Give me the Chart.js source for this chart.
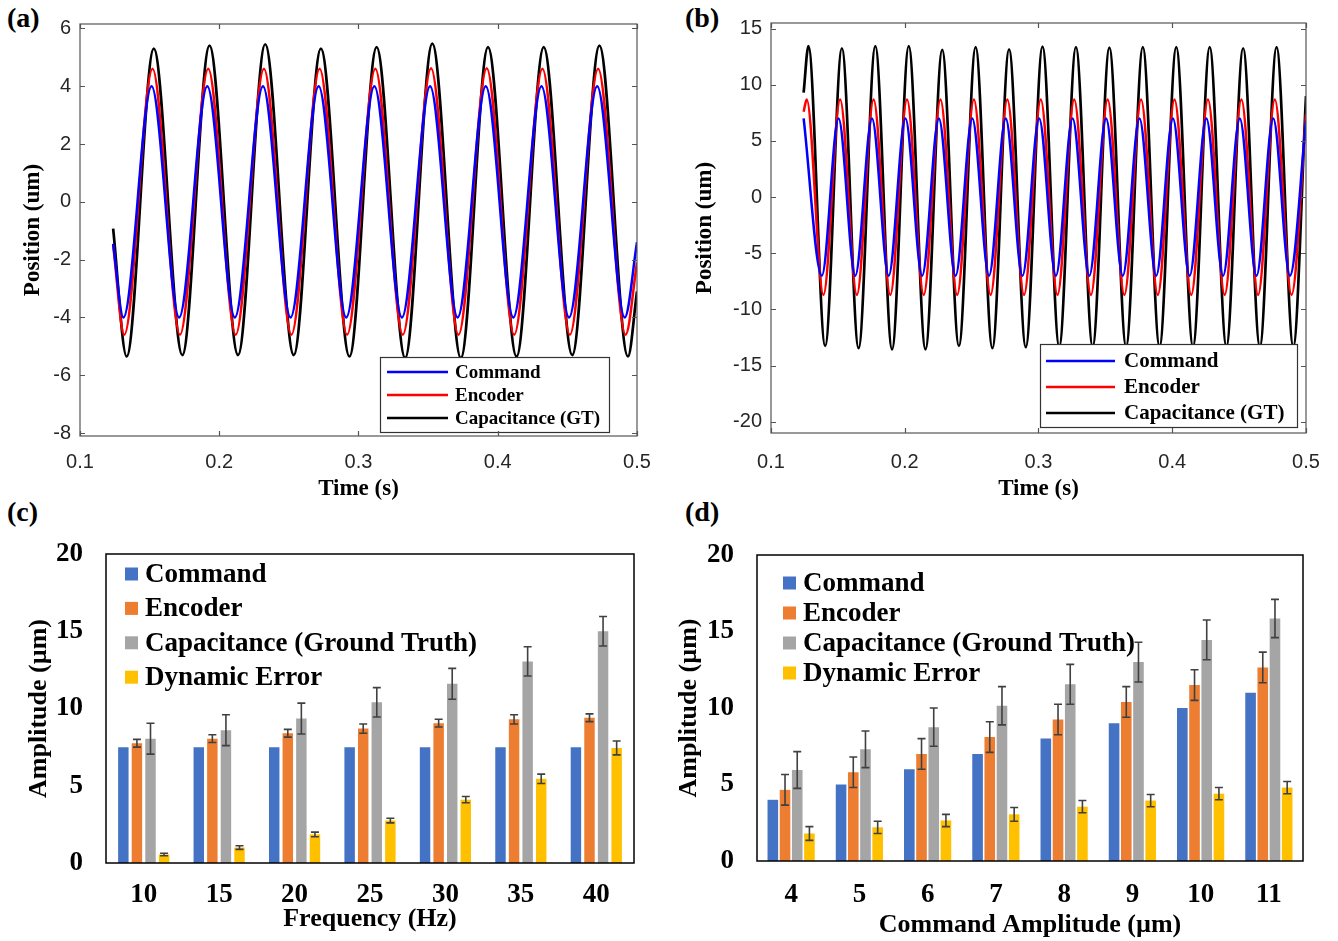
<!DOCTYPE html>
<html>
<head>
<meta charset="utf-8">
<script src="https://cdn.jsdelivr.net/npm/chart.js@4/dist/chart.umd.min.js"></script>
<style>
  body { margin: 0; background: #fff; width: 1338px; height: 941px; position: relative; overflow: hidden; }
  canvas { position: absolute; }
  .tag { position: absolute; font: bold 28px "Liberation Serif", serif; color: #000; }
</style>
</head>
<body>
<div class="tag" style="left:7px;top:2px">(a)</div>
<div class="tag" style="left:685px;top:2px">(b)</div>
<div class="tag" style="left:7px;top:496px">(c)</div>
<div class="tag" style="left:685px;top:496px">(d)</div>
<canvas id="chartA" width="668" height="505" style="left:0;top:0"></canvas>
<canvas id="chartB" width="669" height="505" style="left:669px;top:0"></canvas>
<canvas id="chartC" width="669" height="436" style="left:0;top:505px"></canvas>
<canvas id="chartD" width="669" height="436" style="left:669px;top:505px"></canvas>
<script>
// ---- (a) 25 Hz tracking: peaks / troughs ----
const aCmdT = [0.1238, 0.1312, 0.1514, 0.1712, 0.1914, 0.2112, 0.2314, 0.2512, 0.2714, 0.2912, 0.3114,
               0.3312, 0.3514, 0.3712, 0.3914, 0.4112, 0.4314, 0.4512, 0.4714, 0.4912, 0.5];
const aCmdY = [-1.45, -4, 4, -4, 4, -4, 4, -4, 4, -4, 4, -4, 4, -4, 4, -4, 4, -4, 4, -4, -1.4];
const aEncT = [0.1238, 0.1318, 0.1521, 0.1718, 0.1921, 0.2118, 0.2321, 0.2518, 0.2721, 0.2918, 0.3121,
               0.3318, 0.3521, 0.3718, 0.3921, 0.4118, 0.4321, 0.4518, 0.4721, 0.4918, 0.5];
const aEncY = [-1.5, -4.6, 4.6, -4.6, 4.6, -4.6, 4.6, -4.6, 4.6, -4.6, 4.6, -4.6, 4.62, -4.6, 4.62, -4.6,
               4.6, -4.6, 4.6, -4.6, -2.1];
const aCapT = [0.1238, 0.1335, 0.1530, 0.1735, 0.1930, 0.2135, 0.2330, 0.2535, 0.2730, 0.2935, 0.3130,
               0.3335, 0.3530, 0.3735, 0.3930, 0.4135, 0.4330, 0.4535, 0.4730, 0.4935, 0.5];
const aCapY = [-0.93, -5.35, 5.3, -5.3, 5.4, -5.3, 5.45, -5.3, 5.3, -5.35, 5.35, -5.4, 5.47, -5.4, 5.35,
               -5.35, 5.35, -5.3, 5.4, -5.35, -3.1];
const aXTicks = [0.1, 0.2, 0.3, 0.4, 0.5];
const aYTicks = [-8, -6, -4, -2, 0, 2, 4, 6];

// ---- (b) 40 Hz tracking ----
const bCmdT = [0.1244, 0.138, 0.1505, 0.163, 0.1755, 0.188, 0.2005, 0.213, 0.2255, 0.238, 0.2505, 0.263,
               0.2755, 0.288, 0.3005, 0.313, 0.3255, 0.338, 0.3505, 0.363, 0.3755, 0.388, 0.4005, 0.413,
               0.4255, 0.438, 0.4505, 0.463, 0.4755, 0.488, 0.5];
const bCmdY = [7.0, -7, 7, -7, 7, -7, 7, -7, 7, -7, 7, -7, 7, -7, 7, -7, 7, -7, 7, -7, 7, -7, 7, -7, 7, -7,
               7, -7, 7, -7, 6.8];
const bEncT = [0.1244, 0.1267, 0.1392, 0.1517, 0.1642, 0.1767, 0.1892, 0.2017, 0.2142, 0.2267, 0.2392,
               0.2517, 0.2642, 0.2767, 0.2892, 0.3017, 0.3142, 0.3267, 0.3392, 0.3517, 0.3642, 0.3767,
               0.3892, 0.4017, 0.4142, 0.4267, 0.4392, 0.4517, 0.4642, 0.4767, 0.4892, 0.5];
const bEncY = [7.6, 8.7, -8.7, 8.7, -8.7, 8.7, -8.7, 8.7, -8.7, 8.7, -8.7, 8.7, -8.7, 8.7, -8.7, 8.7, -8.7,
               8.7, -8.7, 8.7, -8.7, 8.7, -8.7, 8.7, -8.7, 8.7, -8.7, 8.7, -8.7, 8.7, -8.7, 7.4];
const bCapT = [0.1244, 0.128, 0.1405, 0.153, 0.1655, 0.178, 0.1905, 0.203, 0.2155, 0.228, 0.2405, 0.253,
               0.2655, 0.278, 0.2905, 0.303, 0.3155, 0.328, 0.3405, 0.353, 0.3655, 0.378, 0.3905, 0.403,
               0.4155, 0.428, 0.4405, 0.453, 0.4655, 0.478, 0.4905, 0.5];
const bCapY = [9.3, 13.45, -13.25, 13.25, -13.45, 13.45, -13.55, 13.45, -13.55, 13.1, -13.25, 13.35, -13.45,
               13.15, -13.35, 13.4, -13.3, 13.35, -13.3, 13.3, -13.3, 13.35, -13.3, 13.35, -13.3, 13.35,
               -13.3, 13.25, -13.3, 13.35, -13.3, 9.0];
const bXTicks = [0.1, 0.2, 0.3, 0.4, 0.5];
const bYTicks = [-20, -15, -10, -5, 0, 5, 10, 15];

// ---- (c) amplitude vs frequency ----
const cFreq = ['10', '15', '20', '25', '30', '35', '40'];
const cCommand = [7.5, 7.5, 7.5, 7.5, 7.5, 7.5, 7.5];
const cEncoder = [7.75, 8.05, 8.4, 8.7, 9.05, 9.3, 9.4];
const cEncoderErr = [0.25, 0.25, 0.25, 0.3, 0.25, 0.3, 0.25];
const cCap = [8.05, 8.6, 9.35, 10.4, 11.6, 13.05, 15.0];
const cCapErr = [1.0, 1.0, 1.0, 0.95, 1.0, 0.95, 0.95];
const cDyn = [0.55, 1.0, 1.85, 2.75, 4.1, 5.45, 7.45];
const cDynErr = [0.08, 0.12, 0.15, 0.15, 0.2, 0.3, 0.45];

// ---- (d) amplitude vs command amplitude ----
const dAmp = ['4', '5', '6', '7', '8', '9', '10', '11'];
const dCommand = [4, 5, 6, 7, 8, 9, 10, 11];
const dEncoder = [4.65, 5.8, 7.0, 8.1, 9.25, 10.4, 11.5, 12.65];
const dEncoderErr = [1.0, 1.0, 1.0, 1.0, 1.0, 1.0, 1.0, 1.0];
const dCap = [5.95, 7.3, 8.75, 10.15, 11.55, 13.0, 14.45, 15.85];
const dCapErr = [1.2, 1.2, 1.25, 1.25, 1.3, 1.3, 1.3, 1.25];
const dDyn = [1.8, 2.2, 2.65, 3.05, 3.55, 3.95, 4.4, 4.8];
const dDynErr = [0.45, 0.4, 0.4, 0.45, 0.4, 0.4, 0.4, 0.4];

const barTicks = [0, 5, 10, 15, 20];

const SERIF = '"Liberation Serif", "Times New Roman", serif';
const SANS = '"Liberation Sans", Arial, sans-serif';

function pts(ts, ys) {
    return ts.map((t, i) => ({ x: t, y: ys[i] }));
}

// box round the plot area, optional inward ticks on all four sides (matlab look)
const frame = {
    id: 'frame',
    afterDraw(chart, args, o) {
        const { ctx, chartArea: ca } = chart;
        ctx.save();
        ctx.strokeStyle = o.color;
        ctx.lineWidth = o.width;
        ctx.strokeRect(ca.left, ca.top, ca.right - ca.left, ca.bottom - ca.top);
        if (o.tickLen) {
            ctx.beginPath();
            chart.scales.x.ticks.forEach(t => {
                const px = Math.round(chart.scales.x.getPixelForValue(t.value)) + 0.5;
                ctx.moveTo(px, ca.bottom); ctx.lineTo(px, ca.bottom - o.tickLen);
                ctx.moveTo(px, ca.top); ctx.lineTo(px, ca.top + o.tickLen);
            });
            chart.scales.y.ticks.forEach(t => {
                const py = Math.round(chart.scales.y.getPixelForValue(t.value)) + 0.5;
                ctx.moveTo(ca.left, py); ctx.lineTo(ca.left + o.tickLen, py);
                ctx.moveTo(ca.right, py); ctx.lineTo(ca.right - o.tickLen, py);
            });
            ctx.stroke();
        }
        ctx.restore();
    }
};

// legend drawn inside the plot
const boxLegend = {
    id: 'boxLegend',
    afterDatasetsDraw(chart, args, o) {
        const ctx = chart.ctx;
        ctx.save();
        if (o.box) {
            ctx.fillStyle = '#fff';
            ctx.fillRect(o.box[0], o.box[1], o.box[2], o.box[3]);
            ctx.strokeStyle = '#333';
            ctx.lineWidth = 1.2;
            ctx.strokeRect(o.box[0] + 0.5, o.box[1] + 0.5, o.box[2], o.box[3]);
        }
        ctx.font = o.font;
        ctx.textBaseline = 'middle';
        chart.data.datasets.forEach((ds, i) => {
            const cy = o.rowY + i * o.rowH;
            if (o.marker === 'line') {
                ctx.strokeStyle = ds.borderColor;
                ctx.lineWidth = 2.5;
                ctx.beginPath();
                ctx.moveTo(o.markX, cy);
                ctx.lineTo(o.markX + o.markW, cy);
                ctx.stroke();
            } else {
                ctx.fillStyle = ds.backgroundColor;
                ctx.fillRect(o.markX, cy - o.markW / 2, o.markW, o.markW);
            }
            ctx.fillStyle = '#000';
            ctx.fillText(ds.label, o.textX, cy + 1);
        });
        ctx.restore();
    }
};

// +/- error bars from dataset.errors
const errorBars = {
    id: 'errorBars',
    afterDatasetsDraw(chart) {
        const ctx = chart.ctx, ys = chart.scales.y;
        ctx.save();
        ctx.strokeStyle = '#404040';
        ctx.lineWidth = 1.6;
        chart.data.datasets.forEach((ds, i) => {
            if (!ds.errors) return;
            chart.getDatasetMeta(i).data.forEach((bar, j) => {
                const v = ds.data[j], e = ds.errors[j];
                const top = ys.getPixelForValue(v + e), bot = ys.getPixelForValue(v - e);
                ctx.beginPath();
                ctx.moveTo(bar.x, top); ctx.lineTo(bar.x, bot);
                ctx.moveTo(bar.x - 4, top); ctx.lineTo(bar.x + 4, top);
                ctx.moveTo(bar.x - 4, bot); ctx.lineTo(bar.x + 4, bot);
                ctx.stroke();
            });
        });
        ctx.restore();
    }
};

function lineChart(id, sets, xTicks, yTicks, yMin, yMax, lay) {
    new Chart(id, {
        type: 'line',
        data: {
            datasets: sets.map(s => ({
                label: s.label,
                data: s.data,
                borderColor: s.color,
                borderWidth: s.width,
                pointRadius: 0,
                fill: false,
                cubicInterpolationMode: 'monotone'   // smooth between the peaks/troughs
            }))
        },
        options: {
            responsive: false,
            animation: false,
            layout: { padding: { left: 0, top: lay.top, right: lay.right, bottom: 0 } },
            scales: {
                x: {
                    type: 'linear', min: 0.1, max: 0.5,
                    afterBuildTicks: s => { s.ticks = xTicks.map(v => ({ value: v })); },
                    afterFit: s => { s.height = lay.xh; },
                    grid: { display: false, drawTicks: false },
                    border: { display: false },
                    ticks: { padding: lay.xpad, maxRotation: 0, autoSkip: false, color: '#262626',
                             font: { family: SANS, size: 20 }, callback: v => String(v) },
                    title: { display: true, text: 'Time (s)', color: '#000',
                             font: { family: SERIF, size: 23, weight: 'bold' }, padding: { top: 0, bottom: 2 } }
                },
                y: {
                    min: yMin, max: yMax,
                    afterBuildTicks: s => { s.ticks = yTicks.map(v => ({ value: v })); },
                    afterFit: s => { s.width = lay.yw; },
                    grid: { display: false, drawTicks: false },
                    border: { display: false },
                    ticks: { padding: lay.ypad, color: '#262626', font: { family: SANS, size: 20 },
                             callback: v => String(v) },
                    title: { display: true, text: 'Position (um)', color: '#000',
                             font: { family: SERIF, size: 23, weight: 'bold' }, padding: { top: lay.ytp, bottom: 0 } }
                }
            },
            plugins: {
                legend: { display: false },
                tooltip: { enabled: false },
                frame: { color: '#555', width: 1.2, tickLen: 5 },
                boxLegend: lay.legend
            }
        },
        plugins: [boxLegend, frame]
    });
}

function barChart(id, labels, sets, xTitle, lay) {
    new Chart(id, {
        type: 'bar',
        data: {
            labels: labels,
            datasets: sets.map(s => ({
                label: s.label,
                data: s.data,
                errors: s.errors,
                backgroundColor: s.color,
                borderWidth: 0,
                categoryPercentage: lay.cat,
                barPercentage: lay.bar
            }))
        },
        options: {
            responsive: false,
            animation: false,
            layout: { padding: { left: 0, top: lay.top, right: lay.right, bottom: 0 } },
            scales: {
                x: {
                    afterFit: s => { s.height = lay.xh; },
                    grid: { display: false, drawTicks: false },
                    border: { display: false },
                    ticks: { padding: lay.xpad, maxRotation: 0, color: '#000',
                             font: { family: SERIF, size: 27, weight: 'bold' } },
                    title: { display: true, text: xTitle, color: '#000',
                             font: { family: SERIF, size: 26, weight: 'bold' }, padding: { top: 0, bottom: lay.xtb } }
                },
                y: {
                    min: 0, max: 20,
                    afterBuildTicks: s => { s.ticks = barTicks.map(v => ({ value: v })); },
                    afterFit: s => { s.width = lay.yw; },
                    grid: { display: false, drawTicks: false },
                    border: { display: false },
                    ticks: { padding: lay.ypad, color: '#000', font: { family: SERIF, size: 27, weight: 'bold' } },
                    title: { display: true, text: 'Amplitude (µm)', color: '#000',
                             font: { family: SERIF, size: 26, weight: 'bold' }, padding: { top: lay.ytp, bottom: 0 } }
                }
            },
            plugins: {
                legend: { display: false },
                tooltip: { enabled: false },
                frame: { color: '#000', width: 1.5, tickLen: 0 },
                boxLegend: lay.legend
            }
        },
        plugins: [errorBars, boxLegend, frame]
    });
}

const lineSets = (c, e, g) => [
    { label: 'Command', data: c, color: '#0000ff', width: 2.5 },
    { label: 'Encoder', data: e, color: '#ff0000', width: 2.5 },
    { label: 'Capacitance (GT)', data: g, color: '#000000', width: 2.7 }
];

lineChart('chartA', lineSets(pts(aCmdT, aCmdY), pts(aEncT, aEncY), pts(aCapT, aCapY)),
    aXTicks, aYTicks, -8.1, 6.15,
    { top: 24, right: 31, xh: 69, yw: 80, xpad: 14, ypad: 9, ytp: 19,
      legend: { box: [380, 357, 229, 75], marker: 'line', markX: 387, markW: 61, textX: 455,
                rowY: 372, rowH: 23, font: 'bold 19px ' + SERIF } });

lineChart('chartB', lineSets(pts(bCmdT, bCmdY), pts(bEncT, bEncY), pts(bCapT, bCapY)),
    bXTicks, bYTicks, -21, 15.5,
    { top: 23, right: 32, xh: 72, yw: 102, xpad: 17, ypad: 9, ytp: 22,
      legend: { box: [371, 344, 257, 83], marker: 'line', markX: 377, markW: 69, textX: 455,
                rowY: 361, rowH: 26, font: 'bold 21px ' + SERIF } });

const barSets = (cm, en, enE, cp, cpE, dy, dyE) => [
    { label: 'Command', data: cm, color: '#4472c4' },
    { label: 'Encoder', data: en, errors: enE, color: '#ed7d31' },
    { label: 'Capacitance (Ground Truth)', data: cp, errors: cpE, color: '#a5a5a5' },
    { label: 'Dynamic Error', data: dy, errors: dyE, color: '#ffc000' }
];

barChart('chartC', cFreq, barSets(cCommand, cEncoder, cEncoderErr, cCap, cCapErr, cDyn, cDynErr),
    'Frequency (Hz)',
    { top: 49, right: 35, xh: 78, yw: 106, xpad: 16, ypad: 23, ytp: 24, xtb: 6, cat: 0.72, bar: 0.77,
      legend: { marker: 'square', markX: 125, markW: 13, textX: 145, rowY: 69, rowH: 34.4,
                font: 'bold 27px ' + SERIF } });

barChart('chartD', dAmp, barSets(dCommand, dEncoder, dEncoderErr, dCap, dCapErr, dDyn, dDynErr),
    'Command Amplitude (µm)',
    { top: 50, right: 35, xh: 80, yw: 88, xpad: 18, ypad: 23, ytp: 5, xtb: 0, cat: 0.715, bar: 0.87,
      legend: { marker: 'square', markX: 114, markW: 13, textX: 134, rowY: 78, rowH: 30,
                font: 'bold 27px ' + SERIF } });
</script>
</body>
</html>
